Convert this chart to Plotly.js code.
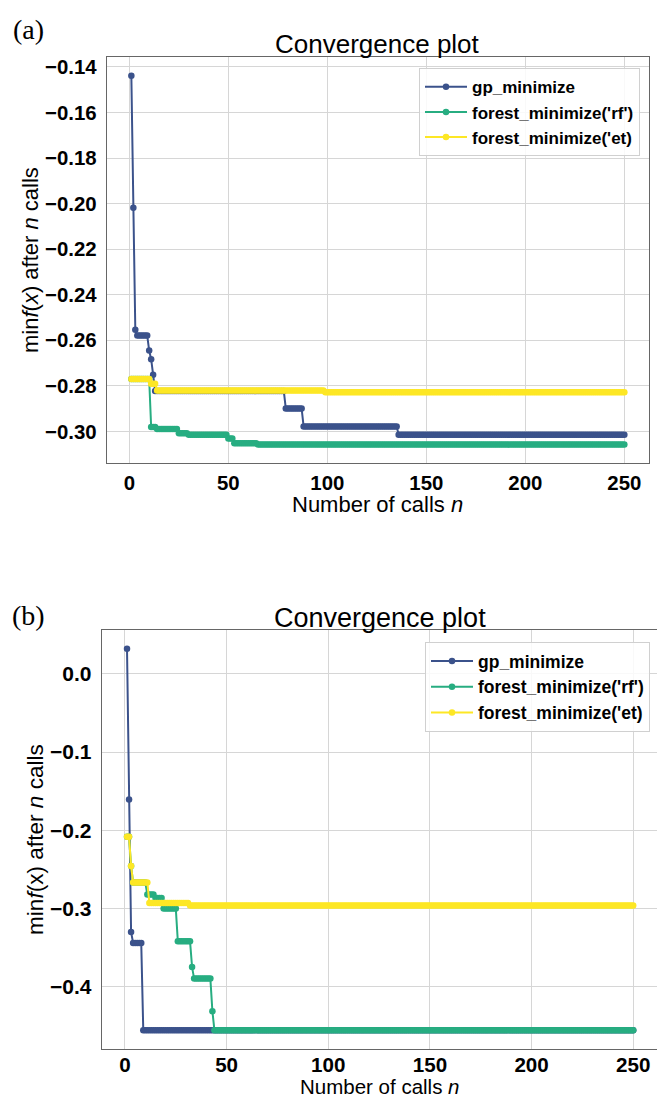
<!DOCTYPE html>
<html>
<head>
<meta charset="utf-8">
<script src="https://cdn.plot.ly/plotly-3.0.1.min.js"></script>
<style>html,body{margin:0;padding:0;background:#fff;}#chart{width:657px;height:1100px;}</style>
</head>
<body>
<div id="chart"></div>
<script>
// ---- Data (min f(x) after n calls, stored as run-length levels) ----
const seriesNames = ["gp_minimize", "forest_minimize('rf')", "forest_minimize('et)"];
const nCalls = 250;

// Panel (a)
const gpA_levels = [-0.1439, -0.2018, -0.2554, -0.2579, -0.2645, -0.2683, -0.2751, -0.2823, -0.2899, -0.2978, -0.3015];
const gpA_runs   = [1, 1, 1, 6, 1, 1, 1, 66, 9, 48, 115];
const rfA_levels = [-0.2770, -0.2981, -0.2989, -0.3008, -0.3015, -0.3031, -0.3052, -0.3058];
const rfA_runs   = [10, 3, 11, 5, 20, 3, 12, 186];
const etA_levels = [-0.2770, -0.2791, -0.2821, -0.2828];
const etA_runs   = [10, 3, 85, 152];

// Panel (b)
const gpB_levels = [0.0320, -0.1608, -0.3299, -0.3440, -0.4553];
const gpB_runs   = [1, 1, 1, 5, 242];
const rfB_levels = [-0.2081, -0.2457, -0.2666, -0.2821, -0.2864, -0.3000, -0.3417, -0.3745, -0.3894, -0.4310, -0.4553];
const rfB_runs   = [2, 1, 7, 4, 4, 7, 7, 1, 9, 1, 207];
const etB_levels = [-0.2081, -0.2457, -0.2666, -0.2927, -0.2961];
const etB_runs   = [2, 1, 8, 20, 219];

const xTicks = [0, 50, 100, 150, 200, 250];
const yTicksA = [-0.30, -0.28, -0.26, -0.24, -0.22, -0.20, -0.18, -0.16, -0.14];
const yTicksB = [-0.4, -0.3, -0.2, -0.1, 0.0];

// ---- helpers ----
function expand(levels, runs) {
  const out = [];
  levels.forEach((v, i) => { for (let k = 0; k < runs[i]; k++) out.push(v); });
  return out;
}
const calls = Array.from({length: nCalls}, (_, i) => i + 1);
const colors = ['#3b528b', '#27ad81', '#fde725'];
const FONT = 'Liberation Sans, Arial, sans-serif';

function tr(y, i, xa, ya, lg) {
  return {
    x: calls, y: y, xaxis: xa, yaxis: ya, legend: lg,
    name: seriesNames[i], showlegend: true,
    type: 'scatter', mode: 'lines+markers',
    line: {color: colors[i], width: 2},
    marker: {color: colors[i], size: 6.5}
  };
}

const data = [
  tr(expand(gpA_levels, gpA_runs), 0, 'x', 'y', 'legend'),
  tr(expand(rfA_levels, rfA_runs), 1, 'x', 'y', 'legend'),
  tr(expand(etA_levels, etA_runs), 2, 'x', 'y', 'legend'),
  tr(expand(gpB_levels, gpB_runs), 0, 'x2', 'y2', 'legend2'),
  tr(expand(rfB_levels, rfB_runs), 1, 'x2', 'y2', 'legend2'),
  tr(expand(etB_levels, etB_runs), 2, 'x2', 'y2', 'legend2')
];

const W = 657, H = 1100;
const px = v => v / W;
const py = v => 1 - v / H;

function axisBase(fs) {
  return {
    showgrid: true, gridcolor: '#d6d6d6', gridwidth: 1,
    showline: true, linecolor: '#666', linewidth: 1, mirror: true,
    zeroline: false, ticks: 'outside', ticklen: 5, tickcolor: 'rgba(0,0,0,0)',
    tickfont: {family: FONT, size: fs, color: '#000', weight: 'bold'},
    fixedrange: true
  };
}

const layout = {
  width: W, height: H,
  margin: {l: 0, r: 0, t: 0, b: 0},
  paper_bgcolor: '#fff', plot_bgcolor: '#fff',
  xaxis: Object.assign(axisBase(20.4), {
    domain: [px(106.7), px(649)], range: [-11.45, 262.45], anchor: 'y',
    tickvals: xTicks, ticklabelstandoff: -4
  }),
  yaxis: Object.assign(axisBase(20.4), {
    domain: [py(463.3), py(57.3)], range: [-0.3140, -0.1358], anchor: 'x',
    tickvals: yTicksA, tickformat: '.2f'
  }),
  xaxis2: Object.assign(axisBase(20.6), {
    domain: [px(101.7), 1], range: [-11.45, 261.7], anchor: 'y2',
    tickvals: xTicks, ticklabelstandoff: -8
  }),
  yaxis2: Object.assign(axisBase(21), {
    domain: [py(1049.3), py(629.8)], range: [-0.4797, 0.0561], anchor: 'x2',
    tickvals: yTicksB, tickformat: '.1f'
  }),
  legend: {
    x: px(640), xanchor: 'right', y: py(68.3), yanchor: 'top',
    bgcolor: 'rgba(255,255,255,0.85)', bordercolor: '#d0d0d0', borderwidth: 1,
    font: {family: FONT, size: 17, color: '#000', weight: 'bold'},
    tracegroupgap: 0, itemwidth: 42
  },
  legend2: {
    x: px(650), xanchor: 'right', y: py(642), yanchor: 'top',
    bgcolor: 'rgba(255,255,255,0.85)', bordercolor: '#d0d0d0', borderwidth: 1,
    font: {family: FONT, size: 17.5, color: '#000', weight: 'bold'},
    tracegroupgap: 0, itemwidth: 42
  },
  annotations: [
    {text: '(a)', x: px(28), y: py(30), xref: 'paper', yref: 'paper', showarrow: false,
     xanchor: 'center', yanchor: 'middle', font: {family: 'Liberation Serif, Times New Roman, serif', size: 28, color: '#000'}},
    {text: '(b)', x: px(28.5), y: py(615), xref: 'paper', yref: 'paper', showarrow: false,
     xanchor: 'center', yanchor: 'middle', font: {family: 'Liberation Serif, Times New Roman, serif', size: 28, color: '#000'}},
    {text: 'Convergence plot', x: px(377.8), y: py(44), xref: 'paper', yref: 'paper', showarrow: false,
     xanchor: 'center', yanchor: 'middle', font: {family: FONT, size: 26, color: '#000'}},
    {text: 'Convergence plot', x: px(380), y: py(617.5), xref: 'paper', yref: 'paper', showarrow: false,
     xanchor: 'center', yanchor: 'middle', font: {family: FONT, size: 27, color: '#000'}},
    {text: 'Number of calls <i>n</i>', x: px(377.8), y: py(504.5), xref: 'paper', yref: 'paper', showarrow: false,
     xanchor: 'center', yanchor: 'middle', font: {family: FONT, size: 22, color: '#000'}},
    {text: 'Number of calls <i>n</i>', x: px(380), y: py(1086.2), xref: 'paper', yref: 'paper', showarrow: false,
     xanchor: 'center', yanchor: 'middle', font: {family: FONT, size: 20.5, color: '#000'}},
    {text: 'min<i>f</i>(<i>x</i>) after <i>n</i> calls', x: px(31), y: py(260), xref: 'paper', yref: 'paper', showarrow: false,
     textangle: -90, xanchor: 'center', yanchor: 'middle', font: {family: FONT, size: 22, color: '#000'}},
    {text: 'min<i>f</i>(x) after <i>n</i> calls', x: px(35.5), y: py(839.5), xref: 'paper', yref: 'paper', showarrow: false,
     textangle: -90, xanchor: 'center', yanchor: 'middle', font: {family: FONT, size: 22.6, color: '#000'}}
  ]
};

Plotly.newPlot('chart', data, layout, {staticPlot: true, displayModeBar: false});
</script>
</body>
</html>
